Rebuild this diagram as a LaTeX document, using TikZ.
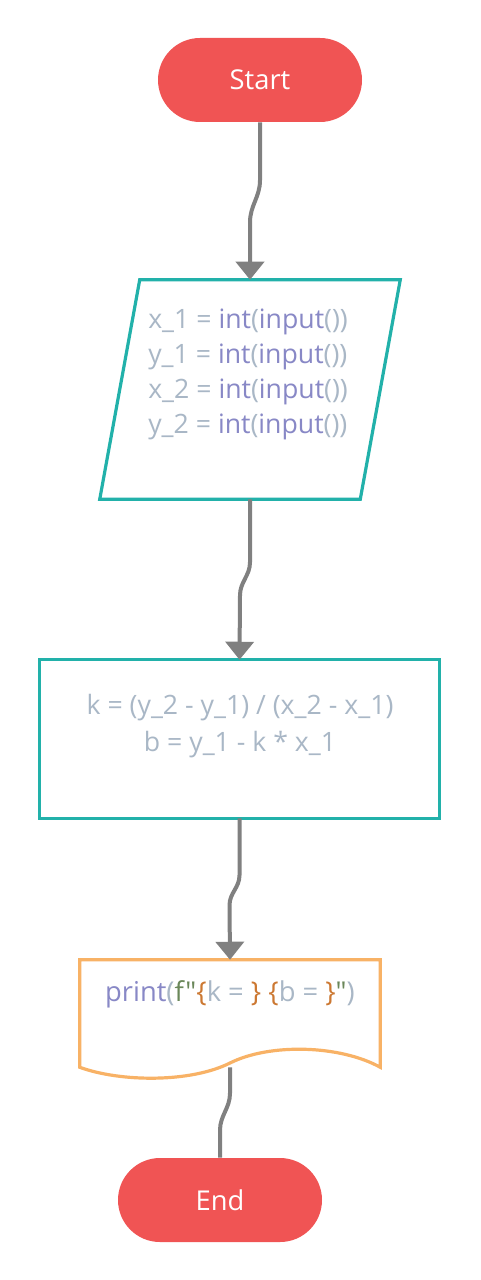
\documentclass[tikz,border=0pt]{standalone}
\usepackage{fontspec}
\setmainfont{Open Sans}
\newfontfamily\codefont{Open Sans}[Ligatures=ResetAll]
\usetikzlibrary{arrows.meta,shapes.misc,calc}
\definecolor{termred}{RGB}{240,84,84}
\definecolor{boxteal}{RGB}{34,177,170}
\definecolor{docorange}{RGB}{248,178,102}
\definecolor{linegray}{RGB}{128,128,128}
\definecolor{codeplain}{HTML}{A9B7C6}
\definecolor{codebuiltin}{HTML}{8888C6}
\definecolor{codestring}{HTML}{6A8759}
\definecolor{codekw}{HTML}{CC7832}
\newcommand{\bi}[1]{\textcolor{codebuiltin}{#1}}
\newcommand{\st}[1]{\textcolor{codestring}{#1}}
\newcommand{\kw}[1]{\textcolor{codekw}{#1}}
\begin{document}
\begin{tikzpicture}[x=0.75pt,y=-0.75pt,
  terminal/.style={rounded rectangle, fill=termred, draw=none,
    minimum width=204*0.75pt, minimum height=84*0.75pt, inner sep=0pt,
    text=white, font=\fontsize{20.5}{24}\selectfont},
  frame/.style={draw=none, inner sep=0pt},
  outline/.style={line width=2.4pt, fill=white, line join=miter},
  code/.style={inner sep=0pt, text=codeplain, font=\codefont\fontsize{20}{26.25}\selectfont},
  conn/.style={draw=linegray, line width=3pt,
    -{Triangle[width=21pt,length=13.5pt]}},
  plain/.style={draw=linegray, line width=3pt}]
\useasboundingbox (0,0) rectangle (480,1280);

% shapes as named frames
\node[terminal] (start) at (260,80) {Start};
\node[frame, minimum width=300*0.75pt, minimum height=219*0.75pt] (io) at (250,389.5) {};
\node[frame, minimum width=399*0.75pt, minimum height=158*0.75pt] (calc) at (239.5,739) {};
\node[frame, minimum width=300*0.75pt, minimum height=107*0.75pt] (doc) at (230,1013.5) {};
\node[terminal] (end) at (220,1200) {End};

% outlines
\draw[outline, draw=boxteal] ($(io.north west)+(40,0)$) -- (io.north east)
  -- ($(io.south east)+(-40,0)$) -- (io.south west) -- cycle;
\draw[outline, draw=boxteal] (calc.north west) rectangle (calc.south east);
\draw[outline, draw=docorange] (doc.south west) -- (doc.north west) -- (doc.north east)
  -- (doc.south east)
  .. controls (340,1045) and (270,1043) .. (230,1063)
  .. controls (190,1083) and (120,1082) .. cycle;

% texts
\node[code, align=left, anchor=west] (iotext) at (148,374) {%
  x\_1 = \bi{int}(\bi{input}())\\
  y\_1 = \bi{int}(\bi{input}())\\
  x\_2 = \bi{int}(\bi{input}())\\
  y\_2 = \bi{int}(\bi{input}())};
\node[code, align=center, font=\codefont\fontsize{20}{27.75}\selectfont] (calctext) at (240,726) {%
  k = (y\_2 - y\_1) / (x\_2 - x\_1)\\
  b = y\_1 - k * x\_1};
\node[code, font=\codefont\fontsize{20.5}{26}\selectfont] (doctext) at (230,994) {%
  \bi{print}(\st{f"}\kw{\{}k = \kw{\}} \kw{\{}b = \kw{\}}\st{"})};

% connectors
\draw[conn] (start.south) -- ++(0,58) to[out=-90,in=90] ++(-10,42) -- (io.north);
\draw[conn] (io.south) -- ++(0,63) to[out=-90,in=90] ++(-10,33) -- (calc.north);
\draw[conn] (calc.south) -- ++(0,57) to[out=-90,in=90] ++(-10,30) -- (doc.north);
\draw[plain] (doc.south) -- ++(0,26) to[out=-90,in=90] ++(-10,37) -- (end.north);
\end{tikzpicture}
\end{document}
